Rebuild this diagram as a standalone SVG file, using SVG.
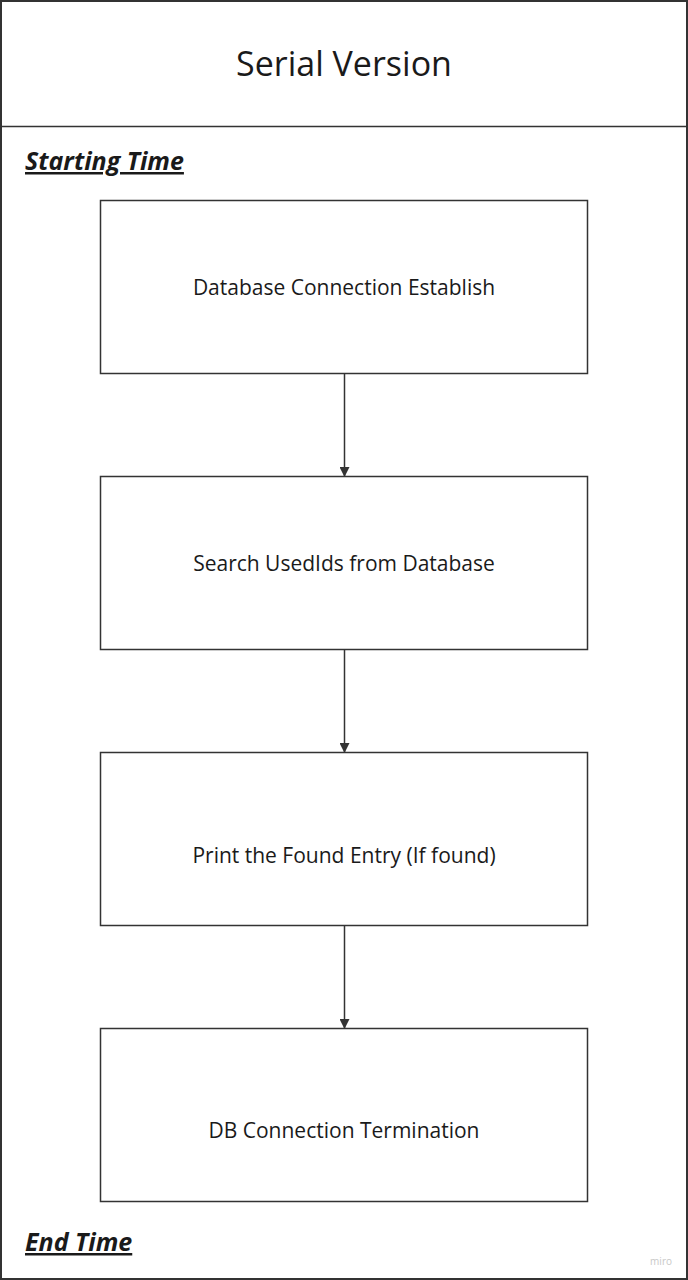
<svg xmlns="http://www.w3.org/2000/svg" width="688" height="1280" viewBox="0 0 688 1280">
<style>
.box{fill:#ffffff;stroke:#333333;stroke-width:1.5}
.lbl{font-family:"Open Sans","Noto Sans",sans-serif;font-size:21px;fill:#1a1a1a;text-anchor:middle}
.mark{font-family:"Open Sans","Noto Sans",sans-serif;font-size:25px;font-weight:bold;font-style:italic;text-decoration:underline;fill:#1a1a1a}
.conn{stroke:#333333;stroke-width:1.5;fill:none}
</style>
<defs>
<marker id="arr" markerWidth="10" markerHeight="10" refX="9" refY="5" orient="auto" markerUnits="userSpaceOnUse">
<path d="M0,0 L10,5 L0,10 z" fill="#333333"/>
</marker>
</defs>
<rect x="0" y="0" width="688" height="1280" fill="#ffffff"/>
<g id="frame">
<rect x="1" y="1" width="686" height="1278" fill="none" stroke="#333333" stroke-width="2"/>
<line x1="1" y1="126.5" x2="687" y2="126.5" stroke="#333333" stroke-width="1.5"/>
<text x="344" y="76" font-family="Open Sans, Noto Sans, sans-serif" font-size="34" fill="#1a1a1a" text-anchor="middle">Serial Version</text>
</g>
<g id="start-label"><text class="mark" x="25" y="170">Starting Time</text></g>
<g id="end-label"><text class="mark" x="25" y="1251">End Time</text></g>
<g id="n1"><rect class="box" x="100.5" y="200.5" width="487" height="173"/><text class="lbl" x="344" y="295">Database Connection Establish</text></g>
<g id="n2"><rect class="box" x="100.5" y="476.5" width="487" height="173"/><text class="lbl" x="344" y="571">Search UsedIds from Database</text></g>
<g id="n3"><rect class="box" x="100.5" y="752.5" width="487" height="173"/><text class="lbl" x="344" y="863">Print the Found Entry (If found)</text></g>
<g id="n4"><rect class="box" x="100.5" y="1028.5" width="487" height="173"/><text class="lbl" x="344" y="1138">DB Connection Termination</text></g>
<g id="connectors">
<line class="conn" x1="344.5" y1="374" x2="344.5" y2="476" marker-end="url(#arr)"/>
<line class="conn" x1="344.5" y1="650" x2="344.5" y2="752" marker-end="url(#arr)"/>
<line class="conn" x1="344.5" y1="926" x2="344.5" y2="1028" marker-end="url(#arr)"/>
</g>
<text x="672" y="1265" font-family="Open Sans, sans-serif" font-size="10" fill="#c8c8c8" text-anchor="end">miro</text>
</svg>
